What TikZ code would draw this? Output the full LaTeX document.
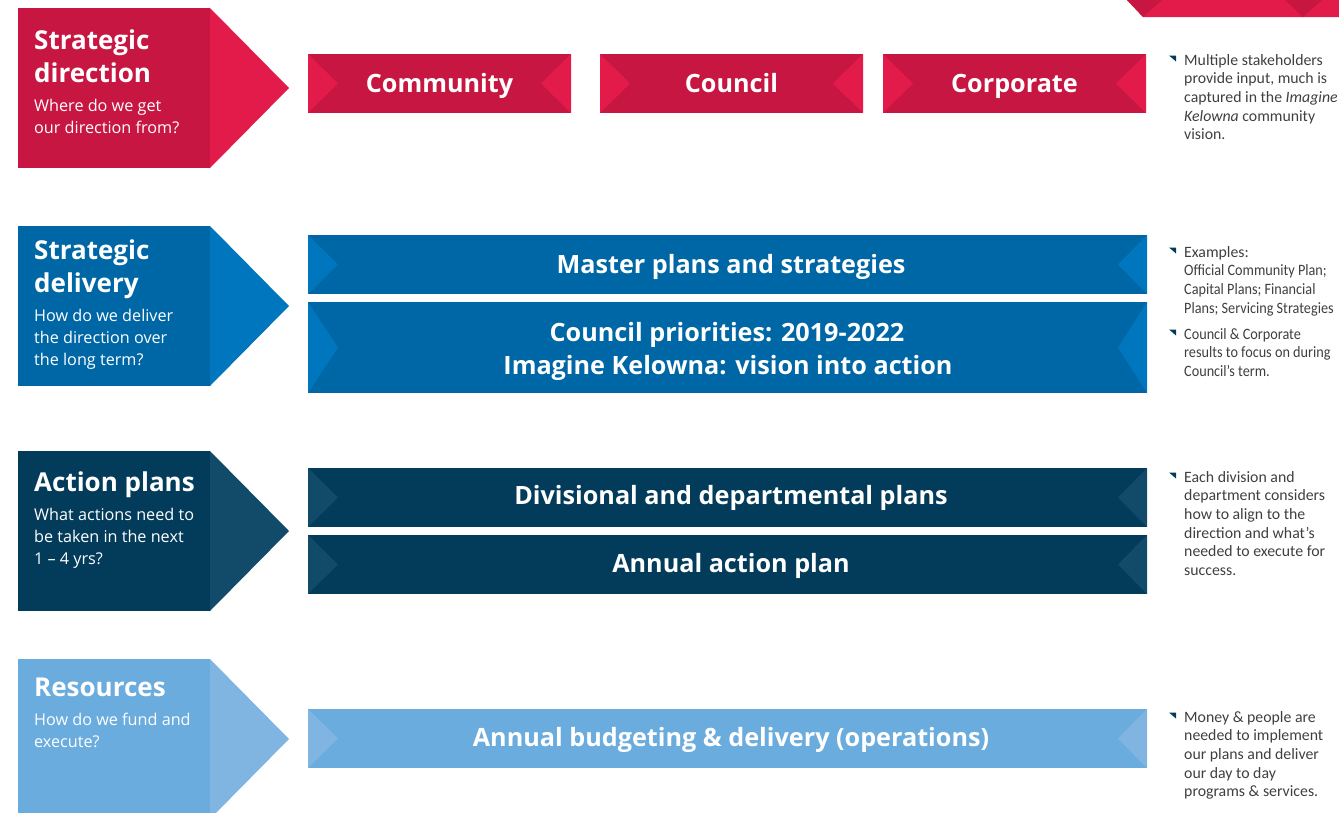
\documentclass[tikz,border=0pt]{standalone}
\usepackage{fontspec}
\setmainfont{Open Sans}
\newfontfamily\notefont{Carlito}
\newfontfamily\tightfont{Carlito}[FakeStretch=0.9]
\usepackage{tikz}

\definecolor{redA}{HTML}{C81642}
\definecolor{redB}{HTML}{E31B4B}
\definecolor{blueA}{HTML}{0067A6}
\definecolor{blueB}{HTML}{0076BE}
\definecolor{navyA}{HTML}{033C5A}
\definecolor{navyB}{HTML}{124B69}
\definecolor{skyA}{HTML}{6AACDE}
\definecolor{skyB}{HTML}{80B5E2}
\definecolor{notegray}{HTML}{3F3F3F}

\begin{document}
\begin{tikzpicture}[x=1pt,y=-1pt,
		head node/.style={anchor=north west,inner sep=0pt,align=left,text=white,
			font=\bfseries\fontsize{26}{33}\selectfont},
		sub node/.style={anchor=north west,inner sep=0pt,align=left,text=white,
			font=\fontsize{16.2}{22}\selectfont},
		bar node/.style={anchor=base,inner sep=0pt,text=white,
			font=\bfseries\fontsize{25.2}{32}\selectfont},
		note node/.style={anchor=north west,inner sep=0pt,align=left,text=notegray,
			font=\notefont\fontsize{15.8}{18.7}\selectfont},
		tick/.style={fill=navyA}]

	\useasboundingbox (0,0) rectangle (1339,812);
	\clip (0,0) rectangle (1339,812);

	% corner piece
	\fill[redB] (1127,0) -- (1143,17) -- (1339,17) -- (1339,0) -- cycle;
	\fill[redA] (1127,0) -- (1162,0) -- (1143,17) -- cycle;
	\fill[redA] (1285,0) -- (1322,0) -- (1303,17) -- cycle;

	% row 1
	\fill[redA] (18,8) rectangle (210,168);
	\fill[redB] (210,8) -- (289,88) -- (210,168) -- cycle;
	\node[head node] (h1) at (34,30) {Strategic\\direction};
	\node[sub node] (s1) at (34,99) {Where do we get\\our direction from?};

	\fill[redA] (308,54) rectangle (571,113);
	\fill[redB] (308,54) -- (338,83.5) -- (308,113) -- cycle;
	\fill[redB] (571,54) -- (541,83.5) -- (571,113) -- cycle;
	\node[bar node] (b1) at (439.5,92) {Community};

	\fill[redA] (600,54) rectangle (863,113);
	\fill[redB] (600,54) -- (630,83.5) -- (600,113) -- cycle;
	\fill[redB] (863,54) -- (833,83.5) -- (863,113) -- cycle;
	\node[bar node] (b2) at (731.5,92) {Council};

	\fill[redA] (883,54) rectangle (1146,113);
	\fill[redB] (883,54) -- (913,83.5) -- (883,113) -- cycle;
	\fill[redB] (1146,54) -- (1116,83.5) -- (1146,113) -- cycle;
	\node[bar node] (b3) at (1014.5,92) {Corporate};

	\fill[tick] (1169,55.5) -- (1176,55.5) -- (1176,61.5) -- cycle;
	\node[note node] (n1) at (1184,54) {Multiple stakeholders\\provide input, much is\\captured in the \textit{Imagine}\\\textit{Kelowna} community\\vision.};

	% row 2
	\fill[blueA] (18,226) rectangle (210,386);
	\fill[blueB] (210,226) -- (289,306) -- (210,386) -- cycle;
	\node[head node] (h2) at (34,240) {Strategic\\delivery};
	\node[sub node] (s2) at (34,309) {How do we deliver\\the direction over\\the long term?};

	\fill[blueA] (308,235) rectangle (1147,294);
	\fill[blueB] (308,235) -- (338,264.5) -- (308,294) -- cycle;
	\fill[blueB] (1147,235) -- (1118,264.5) -- (1147,294) -- cycle;
	\node[bar node] (b4) at (731,273.5) {Master plans and strategies};

	\fill[blueA] (308,302) rectangle (1147,393);
	\fill[blueB] (308,302) -- (338,347.5) -- (308,393) -- cycle;
	\fill[blueB] (1147,302) -- (1118,347.5) -- (1147,393) -- cycle;
	\node[bar node] (b5) at (727,341.5) {Council priorities: 2019-2022};
	\node[bar node] (b5b) at (728,374.5) {Imagine Kelowna: vision into action};

	\fill[tick] (1169,247.5) -- (1176,247.5) -- (1176,253.5) -- cycle;
	\node[note node] (n2) at (1184,246) {Examples:\\{\tightfont Official Community Plan;}\\{\tightfont Capital Plans; Financial}\\{\tightfont Plans; Servicing Strategies}};
	\fill[tick] (1169,329.5) -- (1176,329.5) -- (1176,335.5) -- cycle;
	\node[note node] (n3) at (1184,328) {\tightfont Council \& Corporate\\\tightfont results to focus on during\\\tightfont Council’s term.};

	% row 3
	\fill[navyA] (18,451) rectangle (210,611);
	\fill[navyB] (210,451) -- (289,531) -- (210,611) -- cycle;
	\node[head node] (h3) at (34,472) {Action plans};
	\node[sub node] (s3) at (34,508) {What actions need to\\be taken in the next\\1 – 4 yrs?};

	\fill[navyA] (308,468) rectangle (1147,527);
	\fill[navyB] (308,468) -- (338,497.5) -- (308,527) -- cycle;
	\fill[navyB] (1147,468) -- (1118,497.5) -- (1147,527) -- cycle;
	\node[bar node] (b6) at (731,504.5) {Divisional and departmental plans};

	\fill[navyA] (308,535) rectangle (1147,594);
	\fill[navyB] (308,535) -- (338,564.5) -- (308,594) -- cycle;
	\fill[navyB] (1147,535) -- (1118,564.5) -- (1147,594) -- cycle;
	\node[bar node] (b7) at (731,572.5) {Annual action plan};

	\fill[tick] (1169,472.5) -- (1176,472.5) -- (1176,478.5) -- cycle;
	\node[note node] (n4) at (1184,471) {Each division and\\department considers\\how to align to the\\direction and what’s\\needed to execute for\\success.};

	% row 4
	\fill[skyA] (18,659) rectangle (210,819);
	\fill[skyB] (210,659) -- (289,739) -- (210,819) -- cycle;
	\node[head node] (h4) at (34,678) {Resources};
	\node[sub node] (s4) at (34,713) {How do we fund and\\execute?};

	\fill[skyA] (308,709) rectangle (1147,768);
	\fill[skyB] (308,709) -- (338,738.5) -- (308,768) -- cycle;
	\fill[skyB] (1147,709) -- (1118,738.5) -- (1147,768) -- cycle;
	\node[bar node] (b8) at (731,746.5) {Annual budgeting \& delivery (operations)};

	\fill[tick] (1169,712.5) -- (1176,712.5) -- (1176,718.5) -- cycle;
	\node[note node] (n5) at (1184,711) {Money \& people are\\needed to implement\\our plans and deliver\\our day to day\\programs \& services.};
\end{tikzpicture}
\end{document}
